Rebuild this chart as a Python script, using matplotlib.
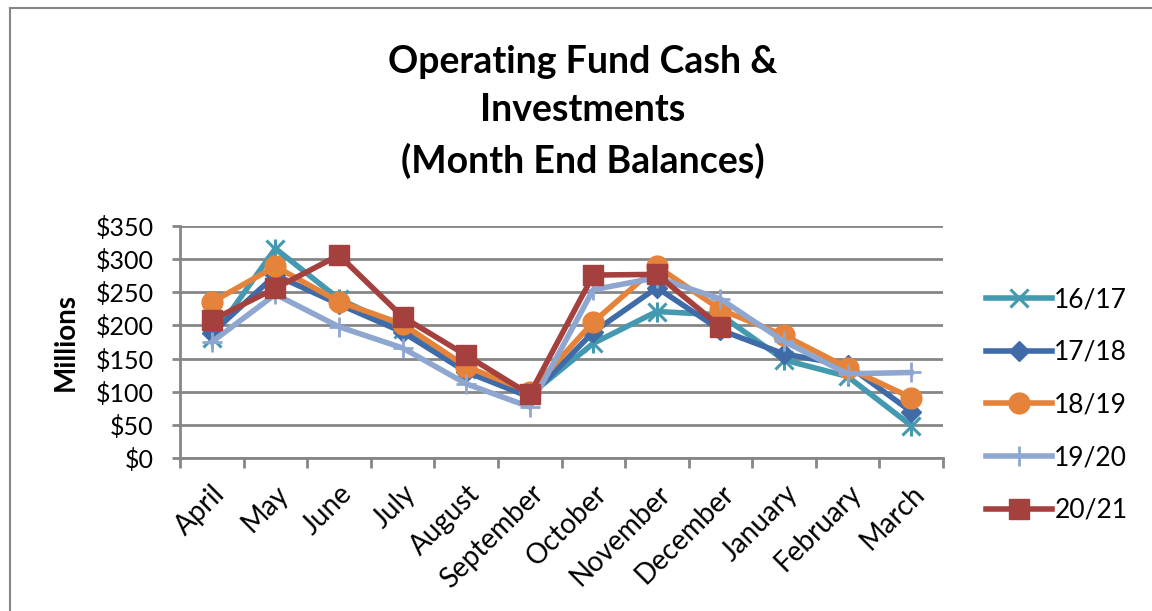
import matplotlib
matplotlib.use("Agg")
import matplotlib.pyplot as plt
from matplotlib.lines import Line2D
import numpy as np

months = ["April", "May", "June", "July", "August", "September", "October",
          "November", "December", "January", "February", "March"]
s1617 = [181, 316, 240, 195, 135, 95, 173, 221, 216, 148, 123, 49]
s1718 = [188, 276, 232, 190, 130, 92, 190, 257, 193, 157, 140, 70]
s1819 = [235, 289, 236, 202, 138, 100, 205, 289, 224, 185, 136, 91]
s1920 = [175, 247, 198, 166, 112, 77, 254, 272, 240, 176, 127, 129]
s2021 = [208, 256, 306, 213, 155, 96, 276, 277, 198]
series_names = ["16/17", "17/18", "18/19", "19/20", "20/21"]
yticks = [0, 50, 100, 150, 200, 250, 300, 350]

colors = ["#4399AF", "#3F6BA8", "#E6833B", "#8EA7D1", "#A4403E"]
markers = ["x", "D", "o", "+", "s"]
msizes = [13, 10, 15, 15, 15]

plt.rcParams['font.family'] = ['Lato', 'DejaVu Sans']

W, H = 1152, 611
fig = plt.figure(figsize=(W / 100, H / 100), dpi=100)
ax = fig.add_axes([180 / W, 1 - 458 / H, (943 - 180) / W, (458 - 226) / H])

x = np.arange(len(months))
data = [s1617, s1718, s1819, s1920, s2021]
handles = []
for i, (name, vals) in enumerate(zip(series_names, data)):
    xv = x[:len(vals)]
    mk = markers[i]
    if mk == "x":
        ln, = ax.plot(xv, vals, color=colors[i], lw=4, marker="x", ms=msizes[i],
                      mew=2.2, zorder=3 + i)
        ax.plot(xv, vals, ls="none", marker="|", ms=msizes[i] + 2, mew=2.2,
                color=colors[i], zorder=3 + i)
    elif mk == "+":
        ln, = ax.plot(xv, vals, color=colors[i], lw=4, marker="+", ms=msizes[i],
                      mew=2.0, zorder=3 + i)
    else:
        ln, = ax.plot(xv, vals, color=colors[i], lw=4, marker=mk, ms=msizes[i],
                      mec=colors[i], mfc=colors[i], zorder=3 + i)
    handles.append(ln)

ax.set_xlim(-0.5, len(months) - 0.5)
ax.set_ylim(0, 350)
ax.set_yticks(yticks)
ax.set_yticklabels([f"${v}" for v in yticks], fontsize=18)
ax.yaxis.grid(True, color="#868686", lw=2)
ax.set_axisbelow(True)
for s in ["top", "right"]:
    ax.spines[s].set_visible(False)
for s in ["left", "bottom"]:
    ax.spines[s].set_color("#868686")
    ax.spines[s].set_linewidth(2)
ax.tick_params(axis="y", length=6, width=2, color="#868686", direction="out", pad=13)
ax.set_xticks(np.arange(-0.5, len(months) + 0.5, 1.0))
ax.set_xticklabels([])
ax.set_xticks(x, minor=True)
ax.set_xticklabels(months, minor=True, rotation=45, ha="right", rotation_mode="anchor",
                   fontsize=20)
ax.tick_params(axis="x", which="major", length=7, width=2, color="#868686", direction="out")
ax.tick_params(axis="x", which="minor", length=0, pad=16)
ax.set_ylabel("Millions", fontsize=20, fontweight="bold", labelpad=12)

fig.text(583 / W, 1 - 112 / H, "Operating Fund Cash &\nInvestments\n(Month End Balances)",
         ha="center", va="center", fontsize=27, fontweight="bold", linespacing=1.5)

leg = fig.legend(handles, series_names, loc="center left",
                 bbox_to_anchor=(962 / W, 1 - 405 / H), frameon=False, fontsize=19,
                 labelspacing=1.05, handlelength=2.5, handletextpad=0.1)

fig.add_artist(Line2D([10 / W, 10 / W], [0, 1 - 8 / H], color="#868686", lw=1.5,
                      transform=fig.transFigure))
fig.add_artist(Line2D([10 / W, 1], [1 - 8 / H, 1 - 8 / H], color="#868686", lw=1.5,
                      transform=fig.transFigure))

fig.savefig("out.png", dpi=100)
